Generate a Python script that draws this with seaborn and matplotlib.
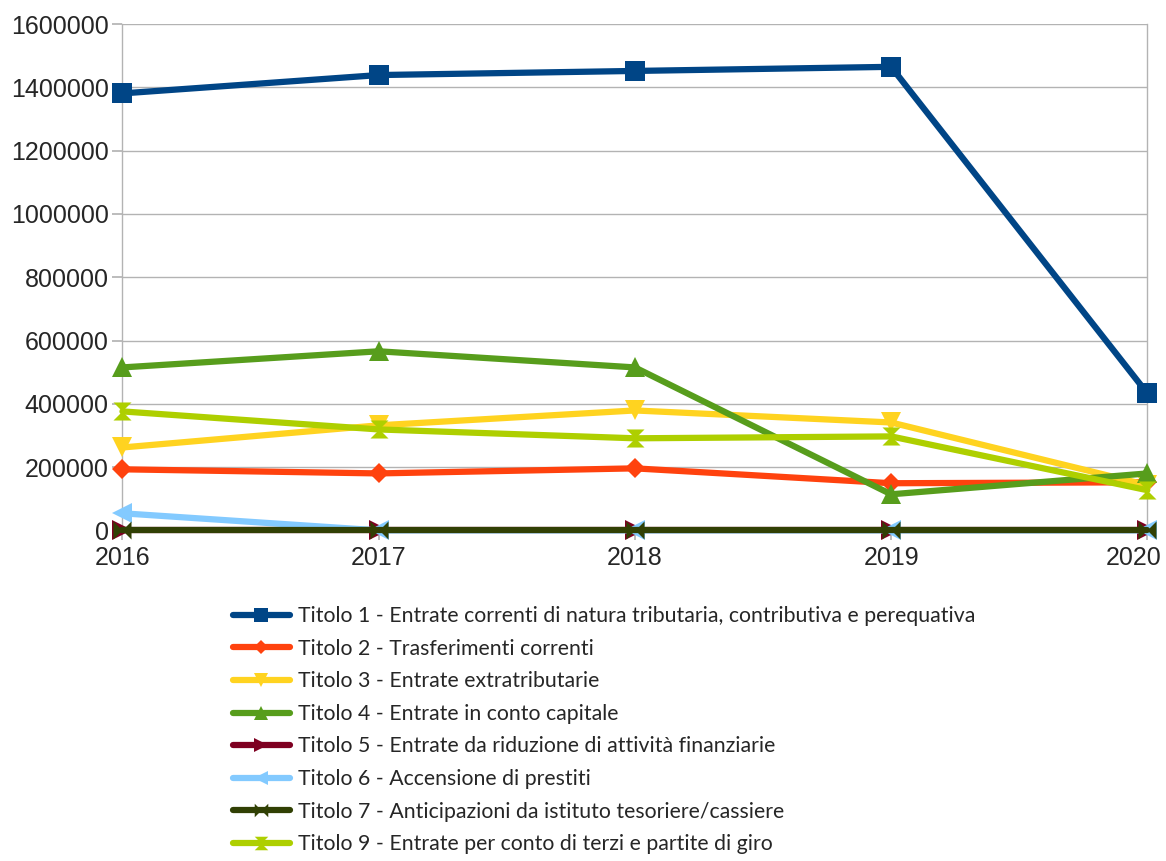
import matplotlib
matplotlib.use("Agg")
import matplotlib.pyplot as plt
import matplotlib.transforms as mtransforms
import seaborn as sns
import pandas as pd
from matplotlib.lines import Line2D

years = [2016, 2017, 2018, 2019, 2020]
labels = [
    "Titolo 1 - Entrate correnti di natura tributaria, contributiva e perequativa",
    "Titolo 2 - Trasferimenti correnti",
    "Titolo 3 - Entrate extratributarie",
    "Titolo 4 - Entrate in conto capitale",
    "Titolo 5 - Entrate da riduzione di attività finanziarie",
    "Titolo 6 - Accensione di prestiti",
    "Titolo 7 - Anticipazioni da istituto tesoriere/cassiere",
    "Titolo 9 - Entrate per conto di terzi e partite di giro",
]
titolo1 = [1381000, 1439000, 1452000, 1465000, 433000]
titolo2 = [193000, 180000, 196000, 149000, 152000]
titolo3 = [262000, 332000, 379000, 341000, 143000]
titolo4 = [515000, 566000, 515000, 114000, 180000]
titolo5 = [0, 0, 0, 0, 0]
titolo6 = [54000, 0, 0, 0, 0]
titolo7 = [0, 0, 0, 0, 0]
titolo9 = [376000, 319000, 291000, 297000, 127000]
series = [titolo1, titolo2, titolo3, titolo4, titolo5, titolo6, titolo7, titolo9]

colors = ["#004586", "#ff420e", "#ffd320", "#579d1c", "#7e0021", "#83caff", "#314004", "#aecf00"]
bowtie = [(-1, -1), (-1, 1), (0, 0), (1, 1), (1, -1), (0, 0)]
hourglass = [(-1, 1), (1, 1), (0, 0), (1, -1), (-1, -1), (0, 0)]
markers = ["s", "D", "v", "^", ">", "<", bowtie, hourglass]
msizes = [14, 10, 14, 14, 14, 14, 13, 13]

rows = []
for lab, vals in zip(labels, series):
    for y, v in zip(years, vals):
        rows.append({"anno": y, "valore": v, "serie": lab})
df = pd.DataFrame(rows)

sns.set_theme(style="white")
plt.rcParams["font.family"] = ["Liberation Sans", "DejaVu Sans"]

fig = plt.figure(figsize=(11.66, 8.61), dpi=100)
ax = fig.add_axes([0.105, 0.384, 0.879, 0.588])

for i, lab in enumerate(labels):
    sub = df[df["serie"] == lab]
    sns.lineplot(data=sub, x="anno", y="valore", ax=ax, color=colors[i],
                 marker=markers[i], markersize=msizes[i], markeredgewidth=0,
                 linewidth=4.5, legend=False, zorder=3 + i * 0.01)

ax.set_xlim(2016, 2020)
ax.set_ylim(0, 1600000)
ax.set_xticks(years)
ax.set_yticks(range(0, 1600001, 200000))
ax.set_xticklabels([str(y) for y in years], fontsize=18)
ax.set_yticklabels([str(v) for v in range(0, 1600001, 200000)], fontsize=18)
ax.set_xlabel("")
ax.set_ylabel("")
ax.yaxis.grid(True, color="#b3b3b3", linewidth=1)
ax.xaxis.grid(False)
for side in ["left", "right", "bottom", "top"]:
    ax.spines[side].set_color("#b3b3b3")
    ax.spines[side].set_linewidth(1)
ax.spines["top"].set_visible(False)
ax.tick_params(axis="y", left=True, length=7, color="#b3b3b3", pad=3)
ax.tick_params(axis="x", bottom=True, length=7, color="#b3b3b3", pad=4)
for ln in ax.lines:
    ln.set_clip_on(False)

# last x label kept inside the figure
last = ax.get_xticklabels()[-1]
last.set_horizontalalignment("right")
last.set_transform(last.get_transform() + mtransforms.ScaledTranslation(14 / 100, 0, fig.dpi_scale_trans))

handles = [Line2D([0], [0], color=colors[i], linewidth=4.5, marker=markers[i],
                  markersize=msizes[i] * 0.75, markeredgewidth=0)
           for i in range(len(labels))]
leg = fig.legend(handles, labels, loc="upper left", bbox_to_anchor=(0.183, 0.318),
                 frameon=False, handlelength=2.7, handletextpad=0.4,
                 labelspacing=0.59, prop={"family": ["Lato", "DejaVu Sans"], "size": 15.3})

fig.savefig("out.png", dpi=100)
